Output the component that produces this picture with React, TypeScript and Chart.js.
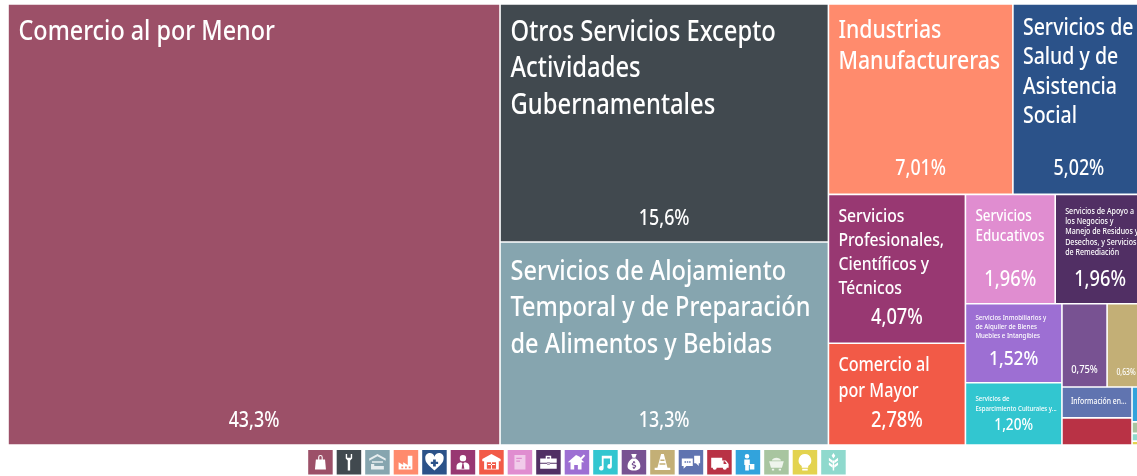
import React, { useEffect, useRef } from "react";
import { Chart, DatasetController, registerables } from "chart.js";

Chart.register(...registerables);

// ---- data ----
const sectors = [
  "Comercio al por Menor",
  "Otros Servicios Excepto\nActividades\nGubernamentales",
  "Servicios de Alojamiento\nTemporal y de Preparación\nde Alimentos y Bebidas",
  "Industrias\nManufactureras",
  "Servicios de\nSalud y de\nAsistencia\nSocial",
  "Servicios\nProfesionales,\nCientíficos y\nTécnicos",
  "Comercio al\npor Mayor",
  "Servicios\nEducativos",
  "Servicios de Apoyo a\nlos Negocios y\nManejo de Residuos y\nDesechos, y Servicios\nde Remediación",
  "Servicios Inmobiliarios y\nde Alquiler de Bienes\nMuebles e Intangibles",
  "Servicios de\nEsparcimiento Culturales y...",
  "",
  "",
  "Información en...",
  "",
  "",
  "",
  "",
  "",
];
const shares = [43.3, 15.6, 13.3, 7.01, 5.02, 4.07, 2.78, 1.96, 1.96, 1.52, 1.2, 0.75, 0.63, 0.43, 0.38, 0.09, 0.03, 0.02, 0.01];
const shareLabels = ["43,3%", "15,6%", "13,3%", "7,01%", "5,02%", "4,07%", "2,78%", "1,96%", "1,96%", "1,52%", "1,20%", "0,75%", "0,63%", "", "", "", "", "", ""];
const colors = ["#9C5068", "#41494F", "#86A5AF", "#FF8B6D", "#2B5289", "#983872", "#F25A47", "#E08DD0", "#512F64", "#9D6FD3", "#32C6D0", "#785292", "#C3AF76", "#6074B0", "#B93245", "#32A3DC", "#A8C5A0", "#8FD9CD", "#E3D34F"];
const iconColors = ["#9C5068", "#41494F", "#86A5AF", "#FF8B6D", "#2B5289", "#983872", "#F25A47", "#E08DD0", "#512F64", "#9D6FD3", "#32C6D0", "#785292", "#C3AF76", "#6074B0", "#B93245", "#32A3DC", "#A8C5A0", "#E3D34F", "#8FD9CD"];

// ---- text styles per tile ----
const labelSizes = [27.5, 28, 27.7, 25, 23, 18.5, 19, 15.8, 8.3, 7.2, 7.1, 0, 0, 8, 0, 0, 0, 0, 0];
const lineHeights = [36, 36.5, 36.5, 31, 29.5, 24, 26, 20, 10.3, 9, 10, 0, 0, 10, 0, 0, 0, 0, 0];
const labelTops = [28, 29, 30, 27, 24, 22, 22, 22, 17, 14, 16, 0, 0, 15, 0, 0, 0, 0, 0];
const labelLefts = [10.5, 10.5, 10.5, 10, 10, 10, 10, 10, 10, 10, 10, 0, 0, 9, 0, 0, 0, 0, 0];
const shareSizes = [21, 21, 21, 21, 21, 21.5, 21.5, 21.5, 21.5, 20.5, 16, 11, 8, 0, 0, 0, 0, 0, 0];
const shareBottoms = [24, 23, 24, 25, 25, 25, 24, 24, 24, 24, 20, 17, 14, 0, 0, 0, 0, 0, 0];

const CONDENSE = 0.85;
const FONT = '"Noto Sans", sans-serif';
const TREE_W = 1137;
const TREE_H = 441;

// ---- icon glyphs (24-unit box) ----
const glyphs = [
  "M7 9h10l1 11H6z M9.5 9V6.5a2.5 2.5 0 0 1 5 0V9h-1.2V6.5a1.3 1.3 0 0 0-2.6 0V9z",
  "M8.5 3v5l2.2 2.2V21h2.6V10.2L15.5 8V3H14v4h-4V3z",
  "M12 3L3 8v2.4l9-5 9 5V8z M6 11h12v1.6H6z M5 14h3.5v2H19v4H5z",
  "M4 20V12l5 3v-3l5 3V5h5v15z M7 16.5h2v2H7z M11 16.5h2v2h-2z M15 16.5h2v2h-2z",
  "M12 21C5 15 2 12 2 8a5 5 0 0 1 10-2 5 5 0 0 1 10 2c0 4-3 7-10 13z M10.5 9v2.5H8v2.5h2.5v2.5h3V14H16v-2.5h-2.5V9z",
  "M12 4a3.5 3.5 0 1 1 0 7 3.5 3.5 0 0 1 0-7z M5 20v-4c0-2 2-3.5 5-4l2 2 2-2c3 .5 5 2 5 4v4z M11.3 14h1.4l.8 5h-3z",
  "M12 3L2 8.5V11h2v9h16v-9h2V8.5z M7 12h10v7H7z M8 14h8v1H8z M11.5 12h1v7h-1z",
  "M6 4h12v16H6z M8 7v1.5h6V7z M8 10v1.5h4V10z",
  "M3 8h18v11H3z M9 8V5h6v3h-1.5V6.5h-3V8z M3 12.5v1h18v-1z M10.5 12h3v2.5h-3z",
  "M11 4L2 12h3v8h4v-5h4v5h4v-8h3l-3-2.7L21 5l-1.5-1.5-3.5 3.5-1-1z",
  "M8 5h11v11.5a2.5 2.5 0 1 1-2-2.4V8h-7v10.5a2.5 2.5 0 1 1-2-2.4z",
  "M9 3h6l-1.5 4h-3z M10 8h4c3 2 5 5 5 8 0 3-2 5-7 5s-7-2-7-5c0-3 2-6 5-8z M11 11v1.2c-2 .6-2 3 0 3.4l2 .4v1h-2.5v1H11v1h2v-1c2-.6 2-3 0-3.4l-2-.4v-1h2.5v-1H13v-1.2z",
  "M10.5 3h3l4 15h3v2.5H3.5V18h3z M9.8 9v1.6h4.4V9z M8.8 13v1.6h6.4V13z",
  "M2 8h12v8H7l-3 3v-3H2z M15.5 5H22v8h-1.5v3l-3-3h-2z M5 11v1.6h1.6V11z M7.5 11v1.6h1.6V11z M10 11v1.6h1.6V11z",
  "M3 7h12v3h4l3 4v4h-2a2.2 2.2 0 0 1-4.4 0H9a2.2 2.2 0 0 1-4.4 0H3z M16.5 11v3h3.5l-2-3z",
  "M11 3a2.5 2.5 0 1 1 0 5 2.5 2.5 0 0 1 0-5z M8 9h6v6h-1v6H9v-6H8z M14 14h5v6h-5z",
  "M4 11h16l-2 7H6z M7 10c1-4 9-4 10 0z M7 19h2.5v2H7z M14.5 19H17v2h-2.5z",
  "M12 3a7 7 0 0 1 3.5 13V18h-7v-2A7 7 0 0 1 12 3z M9 19h6v2H9z",
  "M11.2 10h1.6v11h-1.6z M12 2l2 3-2 3-2-3z M7 7l4 3v3L7 10z M17 7l-4 3v3l4-3z M7 12l4 3v3l-4-3z M17 12l-4 3v3l4-3z",
];

type Rect = { x0: number; y0: number; x1: number; y1: number };

// squarified layout of the values inside the given box
function squarify(values: number[], w: number, h: number): Rect[] {
  const ratio = (1 + Math.sqrt(5)) / 2;
  const rects: Rect[] = [];
  let x0 = 0, y0 = 0;
  const x1 = w, y1 = h;
  let remaining = values.reduce((a, b) => a + b, 0);
  let i0 = 0, i1 = 0;
  const n = values.length;
  while (i0 < n) {
    const dx = x1 - x0, dy = y1 - y0;
    let sum = values[i1++];
    let minV = sum, maxV = sum;
    const alpha = Math.max(dy / dx, dx / dy) / (remaining * ratio);
    let beta = sum * sum * alpha;
    let minRatio = Math.max(maxV / beta, beta / minV);
    for (; i1 < n; ++i1) {
      const v = values[i1];
      sum += v;
      if (v < minV) minV = v;
      if (v > maxV) maxV = v;
      beta = sum * sum * alpha;
      const newRatio = Math.max(maxV / beta, beta / minV);
      if (newRatio > minRatio) {
        sum -= v;
        break;
      }
      minRatio = newRatio;
    }
    const dice = dx < dy;
    if (dice) {
      const rowH = (dy * sum) / remaining;
      let x = x0;
      for (let i = i0; i < i1; i++) {
        const nx = x + (dx * values[i]) / sum;
        rects.push({ x0: x, y0, x1: nx, y1: y0 + rowH });
        x = nx;
      }
      y0 += rowH;
    } else {
      const colW = (dx * sum) / remaining;
      let y = y0;
      for (let i = i0; i < i1; i++) {
        const ny = y + (dy * values[i]) / sum;
        rects.push({ x0, y0: y, x1: x0 + colW, y1: ny });
        y = ny;
      }
      x0 += colW;
    }
    remaining -= sum;
    i0 = i1;
  }
  return rects;
}

class TreemapController extends DatasetController {
  static id = "treemap";
  static defaults = { dataElementType: "bar", datasetElementType: false, parsing: false };
  static overrides = { scales: { x: { type: "linear" }, y: { type: "linear" } } };

  update(mode: any) {
    const meta: any = (this as any)._cachedMeta;
    (this as any).updateElements(meta.data, 0, meta.data.length, mode);
  }

  updateElements(elements: any[], start: number, count: number, mode: any) {
    const chart: any = (this as any).chart;
    const xs = chart.scales.x;
    const ys = chart.scales.y;
    const values = (this as any).getDataset().data as number[];
    const rects = squarify(values, xs.max, ys.max);
    for (let i = start; i < start + count; i++) {
      const r = rects[i];
      const left = xs.getPixelForValue(r.x0);
      const right = xs.getPixelForValue(r.x1);
      const top = ys.getPixelForValue(r.y0);
      const bottom = ys.getPixelForValue(r.y1);
      (this as any).updateElement(
        elements[i],
        i,
        {
          x: (left + right) / 2,
          y: top,
          base: bottom,
          width: right - left,
          height: bottom - top,
          horizontal: false,
          inflateAmount: 0,
          enableBorderRadius: false,
          borderSkipped: { top: false, bottom: false, left: false, right: false },
          options: (this as any).resolveDataElementOptions(i, mode),
        },
        mode
      );
    }
  }
}
Chart.register(TreemapController as any);

function condensedText(ctx: CanvasRenderingContext2D, text: string, x: number, y: number, size: number, center: boolean) {
  ctx.save();
  ctx.font = `500 ${size}px ${FONT}`;
  ctx.textBaseline = "middle";
  ctx.textAlign = center ? "center" : "left";
  ctx.translate(x, y);
  ctx.scale(CONDENSE, 1);
  ctx.fillText(text, 0, 0);
  ctx.restore();
}

const tileText = {
  id: "tileText",
  afterDatasetsDraw(chart: any) {
    const ctx: CanvasRenderingContext2D = chart.ctx;
    const els = chart.getDatasetMeta(0).data;
    ctx.save();
    ctx.fillStyle = "#FFFFFF";
    els.forEach((el: any, i: number) => {
      const left = el.x - el.width / 2;
      const top = el.y;
      const bottom = el.base;
      if (labelSizes[i] && sectors[i]) {
        sectors[i].split("\n").forEach((line, k) => {
          condensedText(ctx, line, left + labelLefts[i], top + labelTops[i] + k * lineHeights[i], labelSizes[i], false);
        });
      }
      if (shareSizes[i] && shareLabels[i]) {
        condensedText(ctx, shareLabels[i], el.x, bottom - shareBottoms[i], shareSizes[i], true);
      }
    });
    ctx.restore();
  },
};

const iconStrip = {
  id: "iconStrip",
  afterDraw(chart: any) {
    const ctx: CanvasRenderingContext2D = chart.ctx;
    const size = 24.5;
    const step = 28.5;
    const startX = 308.2;
    const y = chart.chartArea.bottom + 5;
    iconColors.forEach((c, i) => {
      const x = startX + step * i;
      ctx.save();
      ctx.fillStyle = c;
      ctx.fillRect(x, y, size, size);
      ctx.translate(x + 1.25, y + 1.25);
      ctx.scale(22 / 24, 22 / 24);
      ctx.fillStyle = i === 7 ? "rgba(255,255,255,0.55)" : i === 2 || i === 16 ? "rgba(255,255,255,0.8)" : "#FFFFFF";
      ctx.fill(new Path2D(glyphs[i]), "evenodd");
      ctx.restore();
    });
  },
};

export default function App() {
  const ref = useRef<HTMLCanvasElement>(null);
  useEffect(() => {
    document.body.style.margin = "0";
    document.body.style.overflow = "hidden";
    const chart = new Chart(ref.current as HTMLCanvasElement, {
      type: "treemap" as any,
      data: {
        labels: sectors,
        datasets: [
          {
            data: shares,
            backgroundColor: colors,
            borderColor: "#FFFFFF",
            borderWidth: 0.8,
          } as any,
        ],
      },
      options: {
        animation: false,
        responsive: false,
        layout: { padding: { left: 8, top: 4, right: 5, bottom: 31 } },
        plugins: { legend: { display: false }, tooltip: { enabled: false } },
        scales: {
          x: { type: "linear", display: false, min: 0, max: TREE_W },
          y: { type: "linear", display: false, min: 0, max: TREE_H, reverse: true },
        },
      } as any,
      plugins: [tileText, iconStrip],
    });
    return () => chart.destroy();
  }, []);
  return (
    <div style={{ position: "fixed", left: 0, top: 0, width: 1137, height: 476, overflow: "hidden", background: "#fff" }}>
      <canvas ref={ref} width={1150} height={476} style={{ display: "block" }} />
    </div>
  );
}
